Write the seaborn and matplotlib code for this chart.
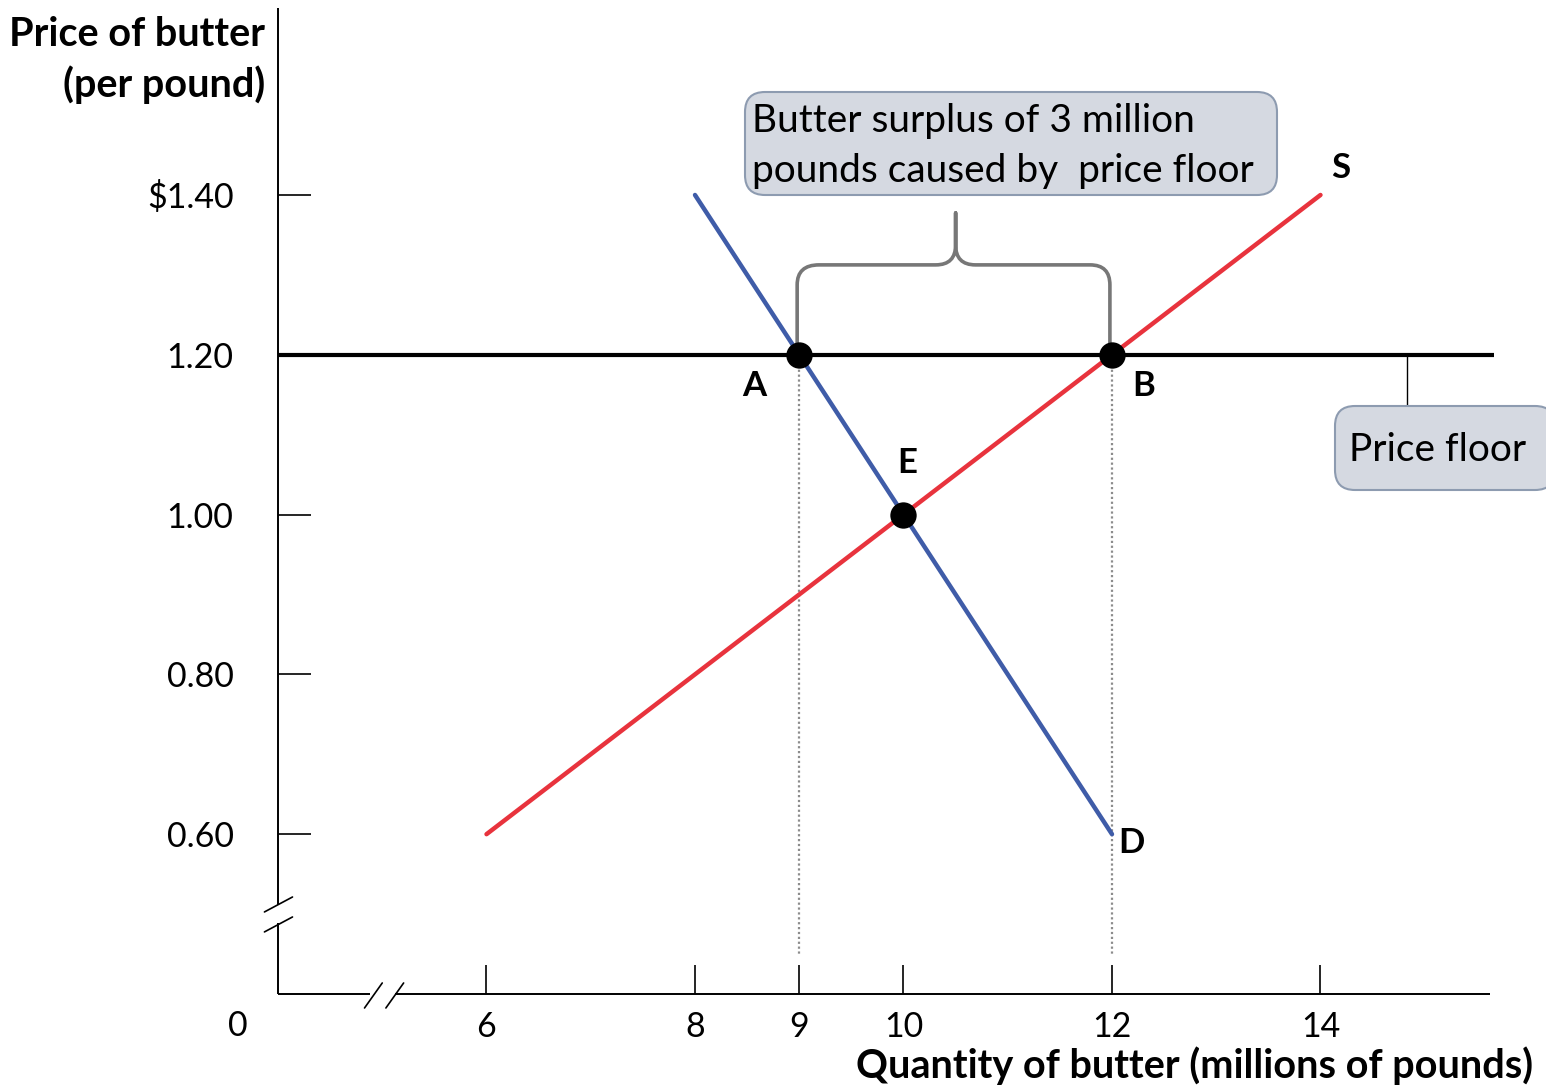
import matplotlib
matplotlib.use("Agg")
import matplotlib.pyplot as plt
from matplotlib.patches import FancyBboxPatch, PathPatch
from matplotlib.path import Path
import pandas as pd
import seaborn as sns

# ---- data ----
demand_q = [8, 12]
demand_p = [1.40, 0.60]
supply_q = [6, 14]
supply_p = [0.60, 1.40]
floor_price = 1.20
point_names = ["A", "B", "E"]
point_q = [9, 12, 10]
point_p = [1.20, 1.20, 1.00]
x_ticks = [6, 8, 9, 10, 12, 14]
x_tick_labels = ["6", "8", "9", "10", "12", "14"]
y_ticks = [1.40, 1.20, 1.00, 0.80, 0.60]
y_tick_labels = ["$1.40", "1.20", "1.00", "0.80", "0.60"]
surplus_text = "Butter surplus of 3 million\npounds caused by  price floor"

sns.set_theme(style="white")
FONT = ["Lato", "DejaVu Sans"]
plt.rcParams["font.family"] = FONT
plt.rcParams["text.color"] = "black"
plt.rcParams["axes.labelcolor"] = "black"
plt.rcParams["xtick.color"] = "black"
plt.rcParams["ytick.color"] = "black"

W, H, DPI = 15.46, 10.87, 100
fig = plt.figure(figsize=(W, H), dpi=DPI)
ax = fig.add_axes([278 / 1546, 93 / 1087, (1490 - 278) / 1546, (1079 - 93) / 1087])
X0, X1 = 4.0, 15.626
Y0, Y1 = 0.40, 1.634
ax.set_xlim(X0, X1)
ax.set_ylim(Y0, Y1)
for s in ax.spines.values():
    s.set_visible(False)

TICK_FS = 24.5
LAB_FS = 25
TITLE_FS = 28.5
BOX_FS = 28

lines = pd.concat([
    pd.DataFrame({"q": demand_q, "p": demand_p, "curve": "D"}),
    pd.DataFrame({"q": supply_q, "p": supply_p, "curve": "S"}),
])
sns.lineplot(data=lines, x="q", y="p", hue="curve", estimator=None, sort=False,
             palette={"D": "#3f5ca8", "S": "#e8333d"}, linewidth=3.2,
             legend=False, ax=ax, zorder=3)

# price floor
ax.plot([X0, 15.66], [floor_price, floor_price], color="black", lw=3.0,
        solid_capstyle="butt", clip_on=False, zorder=4)
# connector to the floor label
ax.plot([14.83, 14.83], [floor_price, floor_price - 0.065], color="black", lw=1.0,
        clip_on=False, zorder=2)

# dotted guides down from A and B
for q in point_q[:2]:
    ax.plot([q, q], [floor_price, 0.45], color="#8c8c8c", lw=1.6,
            linestyle=(0, (1, 1.2)), zorder=2)

pts = pd.DataFrame({"q": point_q, "p": point_p, "name": point_names})
sns.scatterplot(data=pts, x="q", y="p", s=360, color="black", edgecolor="black",
                linewidth=0, ax=ax, zorder=6, legend=False)

# brace over the surplus
qa, qb = point_q[0], point_q[1]
mid = (qa + qb) / 2
yb = floor_price + 0.014
ybar = floor_price + 0.1125
yap = floor_price + 0.1775
rx, ry = 0.19, 0.025
verts = [
    (qa - 0.02, yb), (qa - 0.02, ybar - ry), (qa - 0.02, ybar), (qa + rx, ybar),
    (mid - rx, ybar), (mid, ybar), (mid, ybar + ry), (mid, yap),
    (mid, ybar + ry), (mid, ybar), (mid + rx, ybar),
    (qb - 0.02 - rx, ybar), (qb - 0.02, ybar), (qb - 0.02, ybar - ry), (qb - 0.02, yb),
]
codes = [Path.MOVETO, Path.LINETO, Path.CURVE3, Path.CURVE3,
         Path.LINETO, Path.CURVE3, Path.CURVE3, Path.LINETO,
         Path.LINETO, Path.CURVE3, Path.CURVE3,
         Path.LINETO, Path.CURVE3, Path.CURVE3, Path.LINETO]
ax.add_patch(PathPatch(Path(verts, codes), fill=False, edgecolor="#777777", lw=2.6,
                       capstyle="butt", joinstyle="round", zorder=2))

# axis lines with breaks
ax.plot([X0, X0], [Y0, 0.489], color="black", lw=1.4, clip_on=False, solid_capstyle="butt")
ax.plot([X0, X0], [0.511, Y1], color="black", lw=1.4, clip_on=False, solid_capstyle="butt")
ax.plot([X0, 4.88], [Y0, Y0], color="black", lw=1.4, clip_on=False, solid_capstyle="butt")
ax.plot([5.12, X1], [Y0, Y0], color="black", lw=1.4, clip_on=False, solid_capstyle="butt")
for dx in (0.0, 0.205):
    ax.plot([4.83 + dx, 5.0 + dx], [0.3825, 0.4138], color="black", lw=1.2, clip_on=False)
for dy in (0.0, -0.025):
    ax.plot([3.87, 4.139], [0.5027 + dy, 0.5214 + dy], color="black", lw=1.2, clip_on=False)

# ticks
ax.set_xticks(x_ticks)
ax.set_xticklabels(x_tick_labels)
ax.set_yticks(y_ticks)
ax.set_yticklabels(y_tick_labels)
ax.tick_params(axis="x", direction="in", length=21, width=1.2, color="black",
               pad=12, labelsize=TICK_FS, labelcolor="black", bottom=True)
ax.tick_params(axis="y", direction="in", length=24, width=1.2, color="black",
               pad=32, labelsize=TICK_FS, labelcolor="black", left=True)
ax.text(X0 - 0.39, Y0 - 0.0205, "0", ha="center", va="top", fontsize=TICK_FS,
        color="black", clip_on=False)
ax.set_xlabel("")
ax.set_ylabel("")

# curve and point labels
lab = dict(fontsize=LAB_FS, fontweight="bold", color="black", clip_on=False)
ax.text(14.19, 1.434, "S", ha="center", va="center", **lab)
ax.text(12.19, 0.589, "D", ha="center", va="center", **lab)
ax.text(8.57, 1.161, "A", ha="center", va="center", **lab)
ax.text(12.3, 1.161, "B", ha="center", va="center", **lab)
ax.text(10.04, 1.064, "E", ha="center", va="center", **lab)

# axis titles
fig.text(265 / 1546, 1 - 60 / 1087, "Price of butter\n(per pound)", ha="right", va="center",
         fontsize=TITLE_FS, fontweight="bold", linespacing=1.42, color="black")
fig.text(1533 / 1546, 1 - 1066 / 1087, "Quantity of butter (millions of pounds)",
         ha="right", va="center", fontsize=TITLE_FS, fontweight="bold", color="black")

# callout boxes
def callout(x0, y0, x1, y1):
    box = FancyBboxPatch((x0 / DPI, (1087 - y1) / DPI), (x1 - x0) / DPI, (y1 - y0) / DPI,
                         boxstyle="round,pad=0,rounding_size=0.2",
                         transform=fig.dpi_scale_trans, facecolor="#d5d9e1",
                         edgecolor="#8d9bb0", linewidth=1.5, zorder=5)
    fig.patches.append(box)

callout(745, 92, 1277, 195)
fig.text(752 / 1546, 1 - 146 / 1087, surplus_text, ha="left", va="center",
         fontsize=BOX_FS, linespacing=1.45, color="black", zorder=6)
callout(1335, 406, 1555, 490)
fig.text(1438 / 1546, 1 - 450 / 1087, "Price floor", ha="center", va="center",
         fontsize=BOX_FS, color="black", zorder=6)

fig.savefig("out.png", dpi=DPI, facecolor="white")
